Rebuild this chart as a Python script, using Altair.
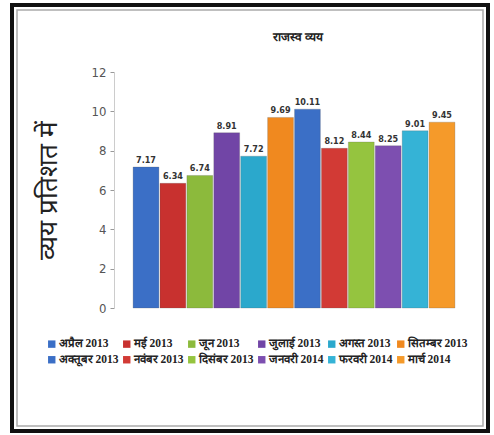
import altair as alt
import pandas as pd

months = ["अप्रैल 2013", "मई 2013", "जून 2013", "जुलाई 2013", "अगस्त 2013", "सितम्बर 2013",
          "अक्तूबर 2013", "नवंबर 2013", "दिसंबर 2013", "जनवरी 2014", "फरवरी 2014", "मार्च 2014"]
values = [7.17, 6.34, 6.74, 8.91, 7.72, 9.69, 10.11, 8.12, 8.44, 8.25, 9.01, 9.45]
colors = ["#3b6fc6", "#c8312f", "#8cba3c", "#7145a6", "#2ba8cc", "#f0891f",
          "#3b6fc6", "#d23a35", "#95c43f", "#7d4fb0", "#35b3d6", "#f59a2a"]
y_ticks = [0, 2, 4, 6, 8, 10, 12]

df = pd.DataFrame({"month": months, "value": values, "label": [f"{v:.2f}" for v in values]})

W, H = 324, 236
PL, PT = 132, 72

x = alt.X("month:N", sort=months, axis=None,
          scale=alt.Scale(paddingInner=0.04, paddingOuter=0.04))
y = alt.Y("value:Q", scale=alt.Scale(domain=[0, 12]),
          axis=alt.Axis(values=y_ticks, title="व्यय प्रतिशत में", grid=False, labelOverlap=False,
                        offset=18, domainColor="#cccccc", tickColor="#999999",
                        labelColor="#555555", labelFontSize=13, labelFont="DejaVu Sans Condensed",
                        titleFontSize=26, titleFontWeight="normal", titleColor="#222222",
                        titlePadding=30, tickSize=4, labelPadding=4))

bars = alt.Chart(df).mark_bar(stroke="#555555", strokeWidth=0.4, strokeOpacity=0.6).encode(
    x=x, y=y,
    color=alt.Color("month:N", sort=months,
                    scale=alt.Scale(domain=months, range=colors),
                    legend=alt.Legend(orient="none", legendX=-86, legendY=266, columns=6,
                                      direction="horizontal",
                                      title=None, symbolType="square", symbolSize=55,
                                      symbolStrokeWidth=0, labelFont="Liberation Serif",
                                      labelFontWeight="bold", labelFontSize=11.5,
                                      labelColor="#222222", columnPadding=2, rowPadding=3,
                                      labelOffset=1, labelLimit=120))
)

labels = alt.Chart(df).mark_text(dy=-7, fontSize=9, font="DejaVu Sans Condensed",
                                 fontWeight="bold", color="#333333").encode(
    x=x, y=y, text="label:N")

frame_df = pd.DataFrame({"t": ["राजस्व व्यय"]})
title = alt.Chart(frame_df).mark_text(fontSize=12, fontWeight="bold", color="#222222").encode(
    x=alt.value(W / 2 + 4), y=alt.value(37 - PT), text="t:N")
outer = alt.Chart(frame_df).mark_rect(fill=None, stroke="#111111", strokeWidth=4).encode(
    x=alt.value(12 - PL), x2=alt.value(488 - PL), y=alt.value(5 - PT), y2=alt.value(431 - PT))
inner = alt.Chart(frame_df).mark_rect(fill=None, stroke="#aaaaaa", strokeWidth=1.5).encode(
    x=alt.value(17 - PL), x2=alt.value(483 - PL), y=alt.value(10 - PT), y2=alt.value(426 - PT))

chart = alt.layer(bars, labels, title, outer, inner).properties(
    width=W, height=H,
    autosize=alt.AutoSizeParams(type="none"),
    padding={"left": PL, "top": PT, "right": 494 - PL - W, "bottom": 435 - PT - H},
    background="white"
).configure_view(stroke=None)

chart.save("out.html", embed_options={"renderer": "svg", "actions": False})
